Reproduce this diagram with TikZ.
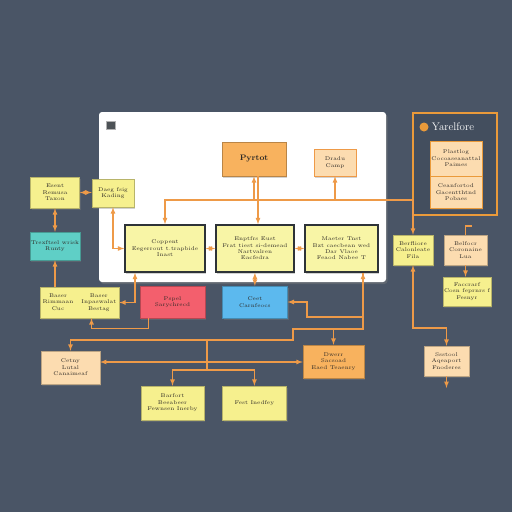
\documentclass[tikz,border=0pt]{standalone}
\usetikzlibrary{positioning,shadows}
\definecolor{bgslate}{HTML}{4A5566}
\definecolor{linkor}{HTML}{EE9A48}
\definecolor{legor}{HTML}{EA9A3A}
\definecolor{legbg}{HTML}{434E5E}
\definecolor{noteyel}{HTML}{F6F08E}
\definecolor{mainyel}{HTML}{F8F5A6}
\definecolor{peach}{HTML}{FCDCB0}
\definecolor{orng}{HTML}{F8B25E}
\definecolor{tealbox}{HTML}{5FCFC6}
\definecolor{redbox}{HTML}{F35F6D}
\definecolor{bluebox}{HTML}{5CB9EE}
\definecolor{inkdark}{HTML}{2E2A26}
\definecolor{boxedge}{HTML}{2E3338}

\begin{document}
\begin{tikzpicture}[x=1pt,y=-1pt,>=latex,
link/.style={draw=linkor,line width=1.2pt},
note/.style={rectangle,fill=#1,draw=#1!75!black,line width=0.4pt,
 align=center,text=inkdark,inner sep=1pt,
 font=\fontsize{5.4}{6.4}\selectfont,
 drop shadow={opacity=0.35,shadow xshift=1.2pt,shadow yshift=-1.5pt}},
mainbox/.style={note=mainyel,draw=boxedge,line width=1.5pt},
node distance=0pt]
% background and panel
\fill[bgslate] (0,0) rectangle (512,512);
\path[fill=white,rounded corners=3pt,
 drop shadow={opacity=0.4,shadow xshift=1.5pt,shadow yshift=-2pt}] (99,112) rectangle (386,282);
\draw[fill=boxedge!85,draw=gray!60,line width=0.5pt] (106,121) rectangle (115,129);

% legend
\draw[draw=legor,line width=1.8pt,fill=legbg] (413,113) rectangle (497,215);
\node[circle,fill=legor,minimum size=9pt,inner sep=0pt] (legdot) at (424,127) {};
\node[right=3pt of legdot,text=white,font=\fontsize{11}{12}\selectfont,inner sep=0pt] (legtitle) {Yarelfore};
\node[note=peach,draw=legor,minimum width=52pt,minimum height=35pt] (leg1) at (456,158.5) {Plastlog\\Cocoaseanattal\\Paimes};
\node[note=peach,draw=legor,minimum width=52pt,minimum height=32pt,below=of leg1] (leg2) {Ceanfortod\\Gacentthtnd\\Pobaes};

% nodes
\node[note=orng,minimum width=64pt,minimum height=34pt,font=\bfseries\fontsize{8}{9}\selectfont] (pyr) at (254,159) {Pyrtot};
\node[note=peach,draw=linkor,minimum width=42pt,minimum height=27pt] (drad) at (335,162.5) {Dradu\\Camp};
\node[note=noteyel,minimum width=49pt,minimum height=31pt] (esent) at (55,192.5) {Esent\\Remusa\\Taxon};
\node[note=noteyel,minimum width=42pt,minimum height=28pt] (daeg) at (113,193) {Daeg fsig\\Kading};
\node[note=tealbox,minimum width=48pt,minimum height=28pt] (teal) at (55,246) {Trexftsel wrisk\\Runty};
\node[mainbox,minimum width=80pt,minimum height=47pt] (A) at (165,248.5) {Coppent\\Eegerrout t.trapbide\\Inast};
\node[mainbox,minimum width=78pt,minimum height=47pt] (B) at (255,248.5) {Enptfrs Eust\\Frat tiest si-demead\\Nartvalren\\Eacfedra};
\node[mainbox,minimum width=73pt,minimum height=47pt] (C) at (341.5,248.5) {Maeter Tnst\\Bzt caecbean wed\\Dar Vlaoe\\Feaod Nabee T};
\node[note=noteyel,minimum width=79pt,minimum height=31pt] (bl) at (79.5,302.5)
 {\begin{tabular}{@{}c@{\hspace{8pt}}c@{}}Baser&Baser\\Rimmaan&Inpaswalat\\Cuc&Bestag\end{tabular}};
\node[note=redbox,minimum width=65pt,minimum height=32pt] (red) at (172.5,302) {Pspel\\Sarychrecd};
\node[note=bluebox,minimum width=65pt,minimum height=32pt,right=17pt of red] (blue) {Ceet\\Carnfeocs};
\node[note=noteyel,minimum width=40pt,minimum height=30pt] (ry) at (413,250) {Berfliore\\Calonleate\\Fila};
\node[note=peach,minimum width=43pt,minimum height=30pt] (rp) at (465.5,250) {Belfocr\\Coronaine\\Lua};
\node[note=noteyel,minimum width=48pt,minimum height=29pt] (rly) at (467,291.5) {Faccrarf\\Cosn feprnrs f\\Fesnyr};
\node[note=peach,minimum width=45pt,minimum height=30pt] (lrp) at (446.5,361) {Ssstool\\Aqeaport\\Fnoderes};
\node[note=peach,minimum width=59pt,minimum height=33pt] (bp) at (70.5,367.5) {Cetny\\Lutal\\Canaimeaf};
\node[note=orng,minimum width=61pt,minimum height=33pt] (org) at (333.5,361.5) {Dwerr\\Sacsoad\\Eaed Teaenry};
\node[note=noteyel,minimum width=63pt,minimum height=34pt] (by1) at (172.5,403) {Barfort\\Beeabeer\\Fewnsen Inerby};
\node[note=noteyel,minimum width=64pt,minimum height=34pt,right=18pt of by1] (by2) {Fest Inedfey};

% junctions
\coordinate (busR) at (413,200);
\coordinate (cb) at (307,317);
\coordinate (j1) at (363,329);
\coordinate (j2) at (293,340);
\coordinate (j3) at (430,328);
\coordinate (j4) at (207,370);
\coordinate (j5) at (100,362);
\coordinate (rphook) at (472,226);
\coordinate (lrpend) at (446.5,388);

% connectors
\draw[link,<->] (A.north) |- (busR) -- (ry.north);
\draw[link,->] (pyr.south |- busR) -- (pyr.south);
\draw[link,->] (drad.south |- busR) -- (drad.south);
\draw[link,->] ([xshift=4pt]pyr.south) -- ([xshift=4pt]pyr.south |- B.north);
\draw[link,<->] (esent.east) -- (esent.east -| daeg.west);
\draw[link,<->] (esent.south) -- (esent.south |- teal.north);
\draw[link,->] (teal.south |- bl.north) -- (teal.south);
\draw[link,<->] (daeg.south) |- (A.west);
\draw[link,<->] (A) -- (B);
\draw[link,<->] (B) -- (C);
\draw[link,<->] ([xshift=-30pt]A.south) |- (bl.east);
\draw[link,->] ([xshift=-24pt]red.south) -- ++(0,10) -| ([xshift=12pt]bl.south);
\draw[link,<->] (blue.north) -- (blue.north |- B.south);
\draw[link,<->] ([xshift=21.5pt]C.south) |- (cb) -- (cb |- blue.east) -- (blue.east);
\draw[link,->] ([xshift=21.5pt]C.south) -- (j1) -| (j2) -| (bp.north);
\draw[link,->] (j1 -| org.north) -- (org.north);
\draw[link] (j2 -| j4) -- (j4);
\draw[link,->] (j4) -| (by1.north);
\draw[link,->] (j4) -| (by2.north);
\draw[link,<->] (j5) -- (j5 -| org.west);
\draw[link,<->] (ry.south) |- (j3) -| (lrp.north);
\draw[link,->] (lrp.south) -- (lrpend);
\draw[link,->] (rp.south) -- (rp.south |- rly.north);
\draw[link] (rp.north) |- (rphook);
\end{tikzpicture}
\end{document}
